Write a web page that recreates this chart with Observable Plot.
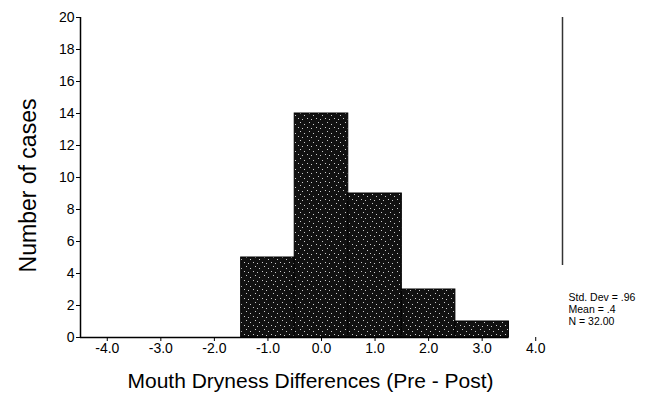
<!DOCTYPE html>
<html>
<head>
<meta charset="utf-8">
<script src="https://cdn.jsdelivr.net/npm/d3@7"></script>
<script src="https://cdn.jsdelivr.net/npm/@observablehq/plot@0.6"></script>
<style>
  html, body { margin: 0; padding: 0; background: #fff; }
  #chart { width: 658px; height: 412px; }
</style>
</head>
<body>
<div id="chart"></div>
<script>
// Bin edges and counts
const binStarts = [-1.5, -0.5, 0.5, 1.5, 2.5];
const binEnds   = [-0.5,  0.5, 1.5, 2.5, 3.5];
const counts    = [5, 14, 9, 3, 1];
const xTicks = [-4, -3, -2, -1, 0, 1, 2, 3, 4];
const yTicks = [0, 2, 4, 6, 8, 10, 12, 14, 16, 18, 20];
const statsLines = ["Std. Dev = .96", "Mean = .4", "N = 32.00"];
const xLabel = "Mouth Dryness Differences (Pre - Post)";
const yLabel = "Number of cases";

const bins = binStarts.map((s, i) => ({x1: s, x2: binEnds[i], y: counts[i]}));
const xMin = -4.5, xMax = 4.5, axisEnd = binEnds[binEnds.length - 1];

const chart = Plot.plot({
  width: 658,
  height: 412,
  marginLeft: 80,
  marginRight: 96,
  marginTop: 17,
  marginBottom: 75,
  style: {fontFamily: "Liberation Sans, Arial, sans-serif", background: "#fff", color: "#000"},
  x: {domain: [xMin, xMax], ticks: xTicks, tickFormat: d => d.toFixed(1), label: null},
  y: {domain: [0, 20], ticks: yTicks, label: null},
  marks: [
    Plot.rectY(bins, {x1: "x1", x2: "x2", y: "y", fill: "url(#dots)", stroke: "#000", strokeWidth: 1}),
    Plot.ruleY([0], {x1: xMin, x2: axisEnd, stroke: "#000", strokeWidth: 1.5}),
    Plot.ruleX([xMin], {y1: 0, y2: 20, stroke: "#000", strokeWidth: 1.5}),
    Plot.ruleX([xMax], {y1: 4.5, y2: 20, stroke: "#333", strokeWidth: 1.5}),
    Plot.axisX({ticks: xTicks, tickFormat: d => d.toFixed(1), tickSize: 4, tickPadding: 2, fontSize: 14, label: null, stroke: "#000", fill: "#000"}),
    Plot.axisY({ticks: yTicks, tickSize: 4, tickPadding: 2, fontSize: 14, label: null, stroke: "#000", fill: "#000"}),
    Plot.text([statsLines.join("\n")], {x: xMax, y: 1.75, dx: 6, textAnchor: "start", lineAnchor: "middle", lineHeight: 1.15, fontSize: 10.5, fill: "#000"}),
    Plot.text([xLabel], {frameAnchor: "bottom", dy: 50, dx: -11, fontSize: 21, fill: "#000"}),
    Plot.text([yLabel], {frameAnchor: "left", textAnchor: "middle", dx: -52, dy: 8, rotate: -90, fontSize: 23, fill: "#000"})
  ]
});

// Dotted dark texture for the bars
const ns = "http://www.w3.org/2000/svg";
const defs = document.createElementNS(ns, "defs");
const pat = document.createElementNS(ns, "pattern");
pat.setAttribute("id", "dots");
pat.setAttribute("width", "9");
pat.setAttribute("height", "9");
pat.setAttribute("patternUnits", "userSpaceOnUse");
const bg = document.createElementNS(ns, "rect");
bg.setAttribute("width", "9"); bg.setAttribute("height", "9"); bg.setAttribute("fill", "#111");
pat.appendChild(bg);
[[1,1],[5,2],[3,5],[7,7]].forEach(([cx, cy]) => {
  const r = document.createElementNS(ns, "rect");
  r.setAttribute("x", cx); r.setAttribute("y", cy);
  r.setAttribute("width", "1"); r.setAttribute("height", "1");
  r.setAttribute("fill", "#ccc");
  pat.appendChild(r);
});
defs.appendChild(pat);
chart.insertBefore(defs, chart.firstChild);

document.getElementById("chart").appendChild(chart);
</script>
</body>
</html>
